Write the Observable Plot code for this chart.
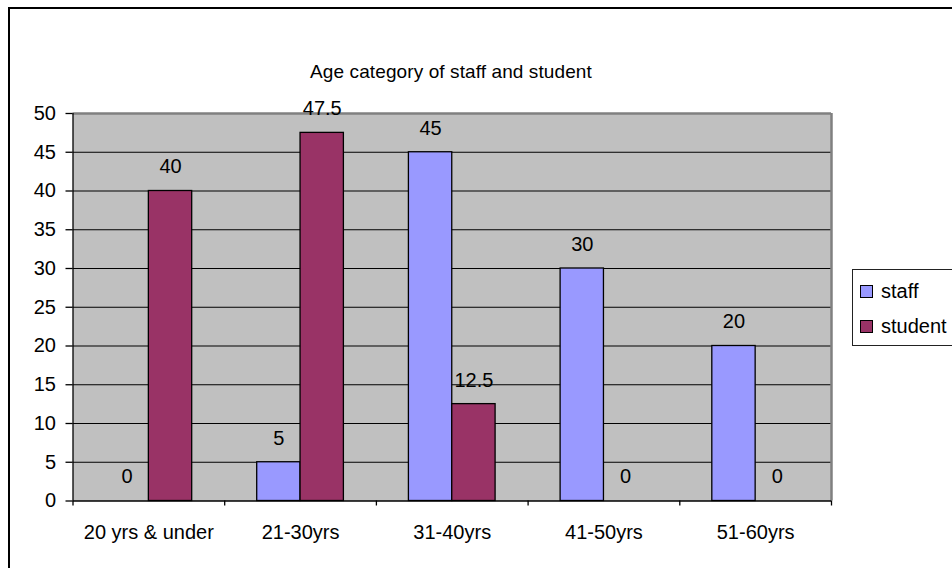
<!DOCTYPE html>
<html>
<head>
<meta charset="utf-8">
<script src="https://cdn.jsdelivr.net/npm/d3@7"></script>
<script src="https://cdn.jsdelivr.net/npm/@observablehq/plot@0.6"></script>
<style>
  html, body { margin: 0; padding: 0; background: #fff; }
  body { width: 952px; height: 568px; position: relative; overflow: hidden;
         font-family: "Liberation Sans", Arial, sans-serif; }
  #chart-border { position: absolute; left: 8px; top: 7px; width: 1000px; height: 700px;
                  border-left: 2px solid #000; border-top: 2px solid #000; }
  #title { position: absolute; left: 0; width: 902px; top: 61px; text-align: center;
           font-size: 19px; color: #000; letter-spacing: 0.1px; }
  #plot { position: absolute; left: 0; top: 0; }
  #legend { position: absolute; left: 852px; top: 269px; width: 130px; height: 75px;
            border: 1px solid #222; background: #fff; font-size: 20px; }
  .item { position: absolute; left: 7px; display: flex; align-items: center; }
  .swatch { width: 11px; height: 11px; border: 1px solid #000; margin-right: 8px; }
</style>
</head>
<body>
<div id="chart-border"></div>
<div id="title">Age category of staff and student</div>
<div id="plot"></div>
<div id="legend"></div>
<script>
// Age bands on the horizontal axis
const categories = ["20 yrs & under", "21-30yrs", "31-40yrs", "41-50yrs", "51-60yrs"];
// Share of each group (percent) per age band
const staff = [0, 5, 45, 30, 20];
const student = [40, 47.5, 12.5, 0, 0];
const seriesNames = ["staff", "student"];
const seriesColors = ["#9999FF", "#993366"];
const yTicks = [0, 5, 10, 15, 20, 25, 30, 35, 40, 45, 50];

// Clustered layout: two bars per band, gap between clusters 150% of a bar
const gapWidth = 1.5;
const step = 1 / (seriesNames.length + gapWidth);

const rows = [];
[staff, student].forEach((values, k) => {
  values.forEach((v, i) => {
    const x1 = i + (gapWidth / 2 + k) * step;
    rows.push({series: seriesNames[k], category: categories[i], value: v,
               x1, x2: x1 + step, xc: x1 + step / 2});
  });
});

const font = '"Liberation Sans", Arial, sans-serif';
const chart = Plot.plot({
  width: 952,
  height: 568,
  marginLeft: 72.5,
  marginRight: 121,
  marginTop: 113,
  marginBottom: 67.5,
  style: {fontFamily: font, fontSize: "20px", color: "#000", background: "transparent"},
  x: {domain: [0, categories.length], label: null},
  y: {domain: [0, 50], label: null},
  color: {domain: seriesNames, range: seriesColors},
  marks: [
    Plot.frame({fill: "#c0c0c0", stroke: null}),
    Plot.gridY(yTicks.slice(1, -1), {stroke: "#000", strokeOpacity: 1, strokeWidth: 1.2}),
    Plot.ruleY([50], {stroke: "#808080", strokeWidth: 2.5}),
    Plot.ruleX([categories.length], {stroke: "#808080", strokeWidth: 2.5}),
    Plot.rectY(rows.filter(d => d.value > 0), {
      x1: "x1", x2: "x2", y: "value", fill: "series", stroke: "#000", strokeWidth: 1.3
    }),
    Plot.text(rows, {
      x: "xc", y: "value", text: d => String(d.value), dy: -24,
      lineAnchor: "middle", fontSize: 20, fill: "#000"
    }),
    Plot.ruleX([0], {stroke: "#000", strokeWidth: 1.3}),
    Plot.ruleY([0], {stroke: "#000", strokeWidth: 1.3}),
    Plot.axisY(yTicks, {
      tickSize: 7, tickPadding: 10, fontSize: 20, stroke: "#000", strokeWidth: 1.3, label: null
    }),
    Plot.axisX(d3.range(categories.length + 1), {
      tickSize: 5, tickFormat: () => "", stroke: "#000", strokeWidth: 1.3, label: null
    }),
    Plot.axisX(categories.map((c, i) => i + 0.5), {
      tickSize: 0, tickPadding: 24, fontSize: 20, label: null,
      tickFormat: v => categories[Math.floor(v)]
    })
  ]
});
document.getElementById("plot").appendChild(chart);

// Legend
const legend = document.getElementById("legend");
seriesNames.forEach((name, k) => {
  const item = document.createElement("div");
  item.className = "item";
  item.style.top = (k === 0 ? 10 : 45) + "px";
  const sw = document.createElement("div");
  sw.className = "swatch";
  sw.style.background = seriesColors[k];
  const label = document.createElement("span");
  label.textContent = name;
  item.appendChild(sw);
  item.appendChild(label);
  legend.appendChild(item);
});
</script>
</body>
</html>
